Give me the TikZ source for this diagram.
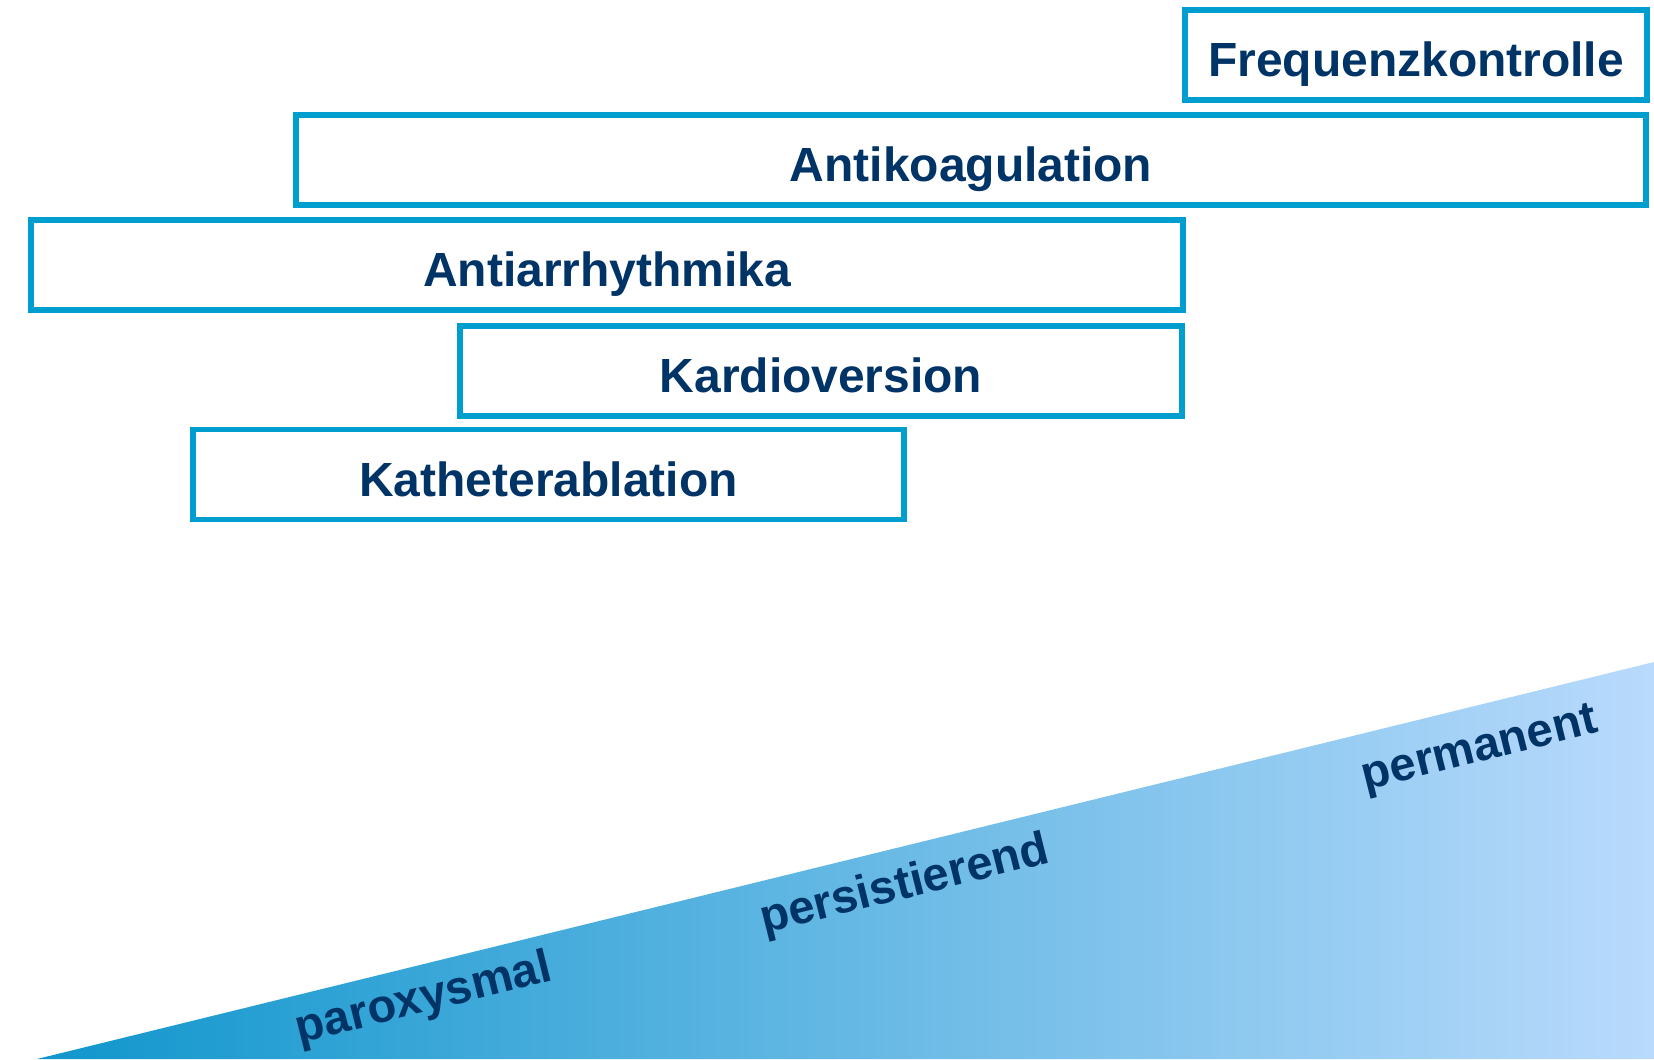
\documentclass[tikz,border=0pt]{standalone}
\usepackage{fontspec}
\setmainfont{Liberation Sans}
\usepackage{tikz}
\usetikzlibrary{positioning}
\usepackage{xcolor}

\definecolor{rahmen}{RGB}{0,158,206}
\definecolor{schrift}{RGB}{0,51,102}
\definecolor{keildunkel}{RGB}{16,150,204}
\definecolor{keilhell}{RGB}{185,218,252}

\begin{document}
\begin{tikzpicture}[x=0.02cm, y=-0.02cm,
    therapie/.style={draw=rahmen, line width=0.11cm, inner sep=0pt,
      minimum height=1.8cm, text=schrift, text height=0.98cm, text depth=0.12cm,
      font=\fontsize{27.3}{30}\selectfont\bfseries},
    stadium/.style={text=schrift, rotate=14, inner sep=0pt,
      font=\fontsize{26.8}{29}\selectfont\bfseries}]
    \useasboundingbox (0,0) rectangle (1654,1059);

    % Keil
    \shade[left color=keildunkel, right color=keilhell]
      (37,1059) -- (1654,662) -- (1654,1059) -- cycle;

    % Therapien
    \node[therapie, minimum width=9.24cm]  (frequenz) at (1416,55)    {Frequenzkontrolle};
    \node[therapie, minimum width=27cm]    (antikoag) at (971,160)    {Antikoagulation};
    \node[therapie, minimum width=23.04cm] (antiarr)  at (607,265)    {Antiarrhythmika};
    \node[therapie, minimum width=14.44cm] (kardio)   at (821,371)    {Kardioversion};
    \node[therapie, minimum width=14.22cm] (katheter) at (548.5,474.5) {Katheterablation};

    % Stadien
    \node[stadium] (parox)   at (424,1000) {paroxysmal};
    \node[stadium] (persist) at (905,886)  {persistierend};
    \node[stadium] (perm)    at (1480,751) {permanent};
\end{tikzpicture}
\end{document}
